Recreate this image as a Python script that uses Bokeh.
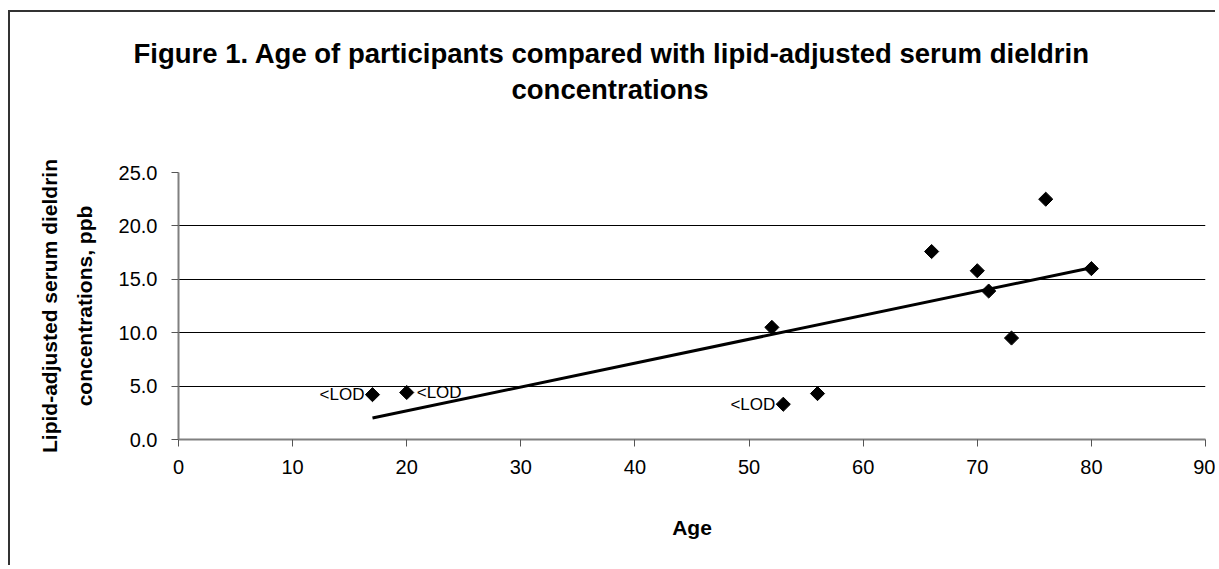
import numpy as np
from bokeh.plotting import figure
from bokeh.models import FixedTicker, PrintfTickFormatter, Range1d, Title
from bokeh.core.properties import value
from bokeh.embed import file_html
from bokeh.resources import INLINE

# ---- data ----
ages = [17, 20, 52, 53, 56, 66, 70, 71, 73, 76, 80]
dieldrin = [4.2, 4.4, 10.5, 3.3, 4.3, 17.6, 15.8, 13.9, 9.5, 22.5, 16.0]
lod_index = [0, 1, 3]
lod_text = ["<LOD", "<LOD", "<LOD"]
lod_align = ["right", "left", "right"]
x_ticks = [0, 10, 20, 30, 40, 50, 60, 70, 80, 90]
y_ticks = [0, 5, 10, 15, 20, 25]

title_line1 = "Figure 1.  Age of participants compared with lipid-adjusted serum dieldrin"
title_line2 = "concentrations"
x_label = "Age"
y_label = "Lipid-adjusted serum dieldrin\nconcentrations, ppb"

FONT = "Liberation Sans"

p = figure(width=1207, height=555, output_backend="svg", toolbar_location=None,
           x_range=Range1d(0, 90), y_range=Range1d(0, 25),
           min_border_left=168, min_border_right=12, min_border_top=160, min_border_bottom=128)
p.styles = {"margin-left": "8px", "margin-top": "10px",
            "border-left": "2px solid #333333", "border-top": "2px solid #333333"}
p.outline_line_color = None

# title: two centred lines, plus an invisible spacer next to the frame
p.title.text = title_line1
t2 = Title(text=title_line2)
for t in (p.title, t2):
    t.align = "left"
    t.text_font = FONT
    t.text_font_size = "27.5px"
    t.text_font_style = "bold"
    t.text_color = "black"
    t.standoff = 3
p.title.offset = -45
t2.offset = 333
spacer = Title(text=" ", text_font_size="1px", standoff=63)
p.add_layout(spacer, "above")
p.add_layout(t2, "above")

# axes
for ax in (p.xaxis, p.yaxis):
    ax.axis_line_color = "#808080"
    ax.axis_line_width = 2
    ax.major_tick_line_color = "#555555"
    ax.major_tick_line_width = 1
    ax.minor_tick_line_color = None
    ax.major_tick_in = 0
    ax.major_tick_out = 7
    ax.major_label_text_font = FONT
    ax.major_label_text_font_size = "20px"
    ax.major_label_text_color = "black"
    ax.axis_label_text_font = FONT
    ax.axis_label_text_font_size = "21px"
    ax.axis_label_text_font_style = "bold"
    ax.axis_label_text_color = "black"

p.xaxis.ticker = FixedTicker(ticks=x_ticks)
p.yaxis.ticker = FixedTicker(ticks=y_ticks)
p.yaxis.formatter = PrintfTickFormatter(format="%.1f")
p.xaxis.axis_label = x_label
p.yaxis.axis_label = y_label
p.yaxis.axis_label_text_line_height = 1.5
p.xaxis.major_label_standoff = 13
p.xaxis.axis_label_standoff = 39
p.yaxis.major_label_standoff = 14
p.yaxis.axis_label_standoff = 20

p.xgrid.grid_line_color = None
p.ygrid.ticker = FixedTicker(ticks=[t for t in y_ticks if 0 < t < max(y_ticks)])
p.ygrid.grid_line_color = "black"
p.ygrid.grid_line_width = 1

# trend line (least squares fit of the data)
slope, intercept = np.polyfit(ages, dieldrin, 1)
tx = [min(ages), max(ages)]
ty = [slope * t + intercept for t in tx]
p.line(tx, ty, line_color="black", line_width=3)

# points
p.scatter(ages, dieldrin, marker="square", size=10, angle=np.pi / 4,
          fill_color="black", line_color="black")

# <LOD labels
for i, t, a in zip(lod_index, lod_text, lod_align):
    off = -8 if a == "right" else 10
    p.text([ages[i]], [dieldrin[i]], text=[t], text_align=a, text_baseline="middle",
           x_offset=off, text_font=value(FONT), text_font_size="17px", text_color="black")

open("out.html", "w").write(file_html(p, INLINE))
